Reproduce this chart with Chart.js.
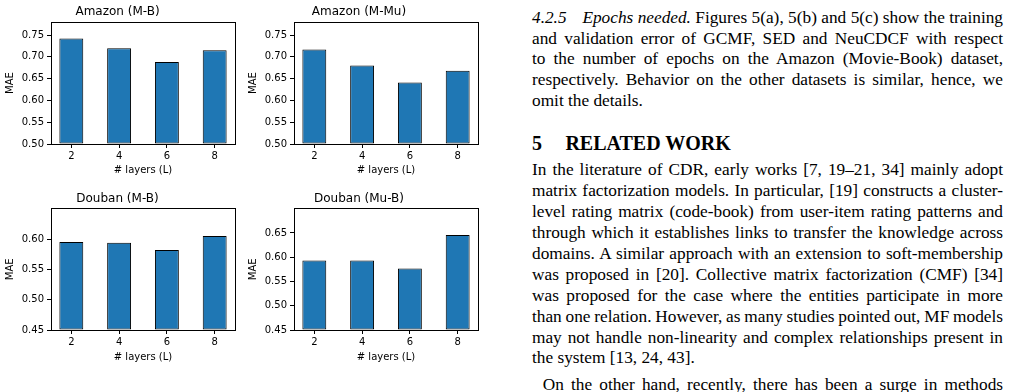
<!DOCTYPE html>
<html>
<head>
<meta charset="utf-8">
<script src="https://cdn.jsdelivr.net/npm/chart.js@4.4.1/dist/chart.umd.min.js"></script>
<style>
  html, body { margin: 0; padding: 0; background: #fff; }
  body { width: 1021px; height: 392px; overflow: hidden; position: relative; }
  .panel { position: absolute; }
  .col { position: absolute; left: 532px; width: 471px; font-family: 'Liberation Serif', serif; font-size: 17.3px; line-height: 20.9px; color: #000; word-spacing: -2px; }
  .ln { display: block; white-space: nowrap; overflow: visible; text-align: justify; text-align-last: justify; }
  .ln.last { text-align-last: left; word-spacing: 0; }
  .num { display: inline-block; font-style: italic; width: 50.4px; text-align: left; }
  .head { position: absolute; left: 532px; top: 131px; font-family: 'Liberation Serif', serif; font-weight: bold; font-size: 20px; line-height: 24px; white-space: nowrap; }
  .head span { display: inline-block; width: 33.4px; }
</style>
</head>
<body>
<canvas id="pAmazonMB" class="panel" width="240" height="180" style="left:0;top:0"></canvas>
<canvas id="pAmazonMMu" class="panel" width="245" height="180" style="left:240px;top:0"></canvas>
<canvas id="pDoubanMB" class="panel" width="240" height="186" style="left:0;top:180px"></canvas>
<canvas id="pDoubanMuB" class="panel" width="245" height="186" style="left:240px;top:180px"></canvas>

<div class="col" style="top:7.6px">
  <div class="ln"><span class="num">4.2.5</span><i>Epochs needed.</i> Figures 5(a), 5(b) and 5(c) show the training</div>
  <div class="ln">and validation error of GCMF, SED and NeuCDCF with respect</div>
  <div class="ln">to the number of epochs on the Amazon (Movie-Book) dataset,</div>
  <div class="ln">respectively. Behavior on the other datasets is similar, hence, we</div>
  <div class="ln last">omit the details.</div>
</div>
<div class="head"><span>5</span>RELATED WORK</div>
<div class="col" style="top:160.3px">
  <div class="ln">In the literature of CDR, early works [7, 19–21, 34] mainly adopt</div>
  <div class="ln">matrix factorization models. In particular, [19] constructs a cluster-</div>
  <div class="ln">level rating matrix (code-book) from user-item rating patterns and</div>
  <div class="ln">through which it establishes links to transfer the knowledge across</div>
  <div class="ln">domains. A similar approach with an extension to soft-membership</div>
  <div class="ln">was proposed in [20]. Collective matrix factorization (CMF) [34]</div>
  <div class="ln">was proposed for the case where the entities participate in more</div>
  <div class="ln">than one relation. However, as many studies pointed out, MF models</div>
  <div class="ln">may not handle non-linearity and complex relationships present in</div>
  <div class="ln last">the system [13, 24, 43].</div>
  <div class="ln" style="padding-left:10.7px;margin-top:6px">On the other hand, recently, there has been a surge in methods</div>
</div>

<script>
'use strict';

// ---- data ----
const layers = ['2', '4', '6', '8'];
const maeAmazonMB = [0.742, 0.720, 0.688, 0.715];
const maeAmazonMMu = [0.717, 0.680, 0.641, 0.668];
const maeDoubanMB = [0.595, 0.594, 0.582, 0.605];
const maeDoubanMuB = [0.593, 0.593, 0.577, 0.646];

const ticksAmazon = [0.50, 0.55, 0.60, 0.65, 0.70, 0.75];
const ticksDoubanMB = [0.45, 0.50, 0.55, 0.60];
const ticksDoubanMuB = [0.45, 0.50, 0.55, 0.60, 0.65];

const rangeAmazon = [0.50, 0.78];
const rangeDoubanMB = [0.45, 0.65];
const rangeDoubanMuB = [0.45, 0.70];

const FONT = 'DejaVu Sans';
const INK = '#000';

// matplotlib-like box around the axes
const framePlugin = {
  id: 'frame',
  afterDraw(chart) {
    const { ctx, chartArea: a } = chart;
    const al = p => Math.round(p - 0.5) + 0.5;
    ctx.save();
    ctx.strokeStyle = INK;
    ctx.lineWidth = 1;
    ctx.strokeRect(al(a.left), al(a.top), al(a.right) - al(a.left), al(a.bottom) - al(a.top));
    ctx.restore();
  },
};

function drawPanel(id, title, values, range, yTicks, box) {
  const ctx = document.getElementById(id);
  new Chart(ctx, {
    type: 'bar',
    data: {
      datasets: [{
        data: values.map((v, i) => ({ x: i, y: v })),
        backgroundColor: '#1f77b4',
        borderColor: '#000',
        borderWidth: 1,
        borderSkipped: false,
        base: range[0],
        barPercentage: 0.5,
        categoryPercentage: 1,
      }],
    },
    options: {
      responsive: false,
      animation: false,
      events: [],
      layout: { padding: { left: 0, right: box.padRight, top: 0, bottom: 0 } },
      plugins: {
        legend: { display: false },
        tooltip: { enabled: false },
        title: {
          display: true,
          text: title,
          color: INK,
          font: { family: FONT, size: 12, weight: 400 },
          padding: { top: box.titleTop, bottom: box.titleBottom },
        },
      },
      scales: {
        x: {
          type: 'linear',
          min: -0.425,
          max: layers.length - 1 + 0.425,
          offset: false,
          afterBuildTicks: s => { s.ticks = layers.map((_, i) => ({ value: i })); },
          afterFit: s => { s.height = box.xHeight; },
          ticks: {
            color: INK, padding: 2, maxRotation: 0, autoSkip: false,
            font: { family: FONT, size: 10 },
            callback: v => layers[v],
          },
          grid: { offset: false, drawOnChartArea: false, drawTicks: true, tickLength: 4, color: INK },
          border: { display: false },
          title: {
            display: true, text: '# layers (L)', color: INK,
            font: { family: FONT, size: 10 },
            padding: { top: 0, bottom: box.xTitlePad },
          },
        },
        y: {
          min: range[0],
          max: range[1],
          afterBuildTicks: s => { s.ticks = yTicks.map(v => ({ value: v })); },
          afterFit: s => { s.width = box.yWidth; },
          ticks: {
            color: INK, padding: 3,
            font: { family: FONT, size: 10 },
            callback: v => v.toFixed(2),
          },
          grid: { drawOnChartArea: false, drawTicks: true, tickLength: 4, color: INK },
          border: { display: false },
          title: {
            display: true, text: 'MAE', color: INK,
            font: { family: FONT, size: 10 },
            padding: { top: box.yTitlePad, bottom: 0 },
          },
        },
      },
    },
    plugins: [framePlugin],
  });
}

const leftBox = { yWidth: 51, padRight: 5, xHeight: 36, yTitlePad: 4 };
const rightBox = { yWidth: 54, padRight: 7, xHeight: 36, yTitlePad: 7.3 };
const topRow = { titleTop: 4.6, titleBottom: 3.0, xTitlePad: 4 };
const bottomRow = { titleTop: 11.5, titleBottom: 2.8, xTitlePad: 2.5 };

drawPanel('pAmazonMB', 'Amazon (M-B)', maeAmazonMB, rangeAmazon, ticksAmazon, { ...leftBox, ...topRow });
drawPanel('pAmazonMMu', 'Amazon (M-Mu)', maeAmazonMMu, rangeAmazon, ticksAmazon, { ...rightBox, ...topRow });
drawPanel('pDoubanMB', 'Douban (M-B)', maeDoubanMB, rangeDoubanMB, ticksDoubanMB, { ...leftBox, ...bottomRow });
drawPanel('pDoubanMuB', 'Douban (Mu-B)', maeDoubanMuB, rangeDoubanMuB, ticksDoubanMuB, { ...rightBox, ...bottomRow });
</script>
</body>
</html>
